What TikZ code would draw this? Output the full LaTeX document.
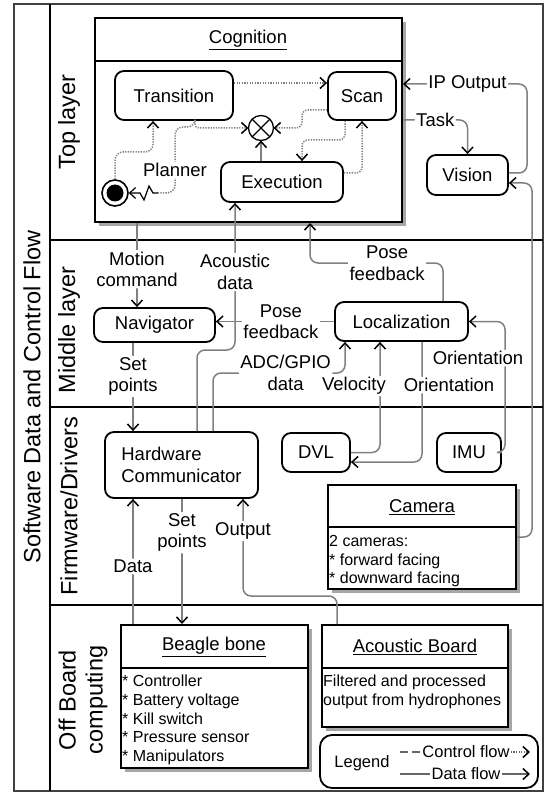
\documentclass[tikz,border=0pt]{standalone}
\usepackage{fontspec}
\setmainfont{Liberation Sans}
\usetikzlibrary{arrows.meta,shadows}
\newcommand\fmain{\fontsize{18.5}{21.5}\selectfont}
\newcommand\fbody{\fontsize{16}{18.7}\selectfont}
\newcommand\flane{\fontsize{23.5}{27}\selectfont}
\newcommand\flegend{\fontsize{16.5}{19}\selectfont}
\begin{document}
\begin{tikzpicture}[x=1pt,y=-1pt,font=\fmain,
  rbox/.style={draw, line width=1.8pt, rounded corners=9pt, fill=white, font=\fmain, inner sep=2pt},
  ubox/.style={draw, line width=2pt, fill=white, drop shadow={shadow xshift=4pt, shadow yshift=-4pt, fill=black!35, opacity=1}},
  conn/.style={draw=black!50, line width=1.5pt, rounded corners=8pt},
  ctrl/.style={conn, dash pattern=on 1.3pt off 1.3pt},
  arrowend/.style={-{Straight Barb[length=6pt,width=11pt,black]}},
  lbl/.style={fill=white, font=\fmain, align=center, inner sep=1.5pt},
  lanesep/.style={line width=2pt},
]
\useasboundingbox (0,0) rectangle (545,794);
% frame and lanes
\draw[line width=2pt, black!75] (14,4) rectangle (543,791);
\draw[lanesep] (50,4) -- (50,791);
\draw[lanesep] (50,240) -- (543,240);
\draw[lanesep] (50,407) -- (543,407);
\draw[lanesep] (50,605) -- (543,605);
\node[rotate=90, font=\flane] (title) at (32,397) {Software Data and Control Flow};
\node[rotate=90, font=\flane] (laneTop) at (69,122) {Top layer};
\node[rotate=90, font=\flane] (laneMid) at (69,330) {Middle layer};
\node[rotate=90, font=\flane] (laneFw) at (69,506) {Firmware/Drivers};
\node[rotate=90, font=\flane, align=center] (laneOff) at (83,700) {Off Board\\computing};

% Cognition
\node[ubox, minimum width=307pt, minimum height=204pt] (cog) at (248.5,120) {};
\draw[line width=2pt] ([yshift=-44pt]cog.north west) -- ([yshift=-44pt]cog.north east);
\node (cogT) at (248,40) {\underline{Cognition}};
\node[rbox, minimum width=118pt, minimum height=49pt] (trans) at (174,95.5) {Transition};
\node[rbox, minimum width=68pt, minimum height=48pt] (scan) at (362,96) {Scan};
\node[circle, draw, line width=1.3pt, minimum size=25pt, inner sep=0pt, outer sep=0pt, fill=white] (ox) at (261,128) {};
\draw[line width=1.1pt] (ox.north west) -- (ox.south east) (ox.north east) -- (ox.south west);
\node[rbox, minimum width=122pt, minimum height=40pt] (exec) at (282,182) {Execution};
\node[circle, draw, line width=1.6pt, minimum size=26pt, inner sep=0pt, fill=white] (init) at (115,193) {};
\fill (init.center) circle (8.5);
\coordinate (zz) at (158,193);

% other nodes
\node[rbox, minimum width=81pt, minimum height=40pt] (vis) at (467.5,175) {Vision};
\node[rbox, minimum width=121pt, minimum height=34pt] (nav) at (154.5,325) {Navigator};
\node[rbox, minimum width=133pt, minimum height=39pt] (loc) at (401.5,321.5) {Localization};
\node[rbox, minimum width=153pt, minimum height=66pt, align=left] (hc) at (181.5,465) {Hardware\\Communicator};
\node[rbox, minimum width=68pt, minimum height=39pt] (dvl) at (316,452.5) {DVL};
\node[rbox, minimum width=64pt, minimum height=39pt] (imu) at (469,452.5) {IMU};

\node[ubox, minimum width=188pt, minimum height=104pt] (cam) at (422,537) {};
\draw[line width=2pt] ([yshift=-43pt]cam.north west) -- ([yshift=-43pt]cam.north east);
\node (camT) at (422,507) {\underline{Camera}};
\node[font=\fbody, align=left, anchor=north west, inner sep=1pt] (camB) at ([yshift=-50pt,xshift=1pt]cam.north west) {2 cameras:\\* forward facing\\* downward facing};

\node[ubox, minimum width=187pt, minimum height=143pt] (bb) at (214.5,696.5) {};
\draw[line width=2pt] ([yshift=-44pt]bb.north west) -- ([yshift=-44pt]bb.north east);
\node (bbT) at (214,647) {\underline{Beagle bone}};
\node[font=\fbody, align=left, anchor=north west, inner sep=1pt] (bbB) at ([yshift=-50pt,xshift=1pt]bb.north west) {* Controller\\* Battery voltage\\* Kill switch\\* Pressure sensor\\* Manipulators};

\node[ubox, minimum width=186pt, minimum height=102pt] (ab) at (415,676) {};
\draw[line width=2pt] ([yshift=-44pt]ab.north west) -- ([yshift=-44pt]ab.north east);
\node (abT) at (415,647) {\underline{Acoustic Board}};
\node[font=\fbody, align=left, anchor=north west, inner sep=1pt] (abB) at ([yshift=-50pt,xshift=1pt]ab.north west) {Filtered and processed\\output from hydrophones};

% legend
\node[draw, line width=1.8pt, rounded corners=12pt, minimum width=218pt, minimum height=53pt] (leg) at (429,761.5) {};
\node[font=\flegend] (legT) at (362,763) {Legend};
\node[font=\flegend, inner sep=1pt] (legC) at (466,752) {Control flow};
\node[font=\flegend, inner sep=1pt] (legD) at (466,774) {Data flow};
\coordinate (lc0) at (400,752);
\coordinate (lc1) at (530,752);
\coordinate (ld0) at (400,774);
\coordinate (ld1) at (530,774);
\draw[black!60, line width=1.5pt, dash pattern=on 8pt off 4pt] (lc0) -- (legC.west);
\draw[black!60, line width=1.5pt, dash pattern=on 1.3pt off 1.3pt, arrowend] (legC.east) -- (lc1);
\draw[black!60, line width=1.5pt] (ld0) -- (legD.west);
\draw[black!60, line width=1.5pt, arrowend] (legD.east) -- (ld1);

% cognition connectors
\draw[ctrl, arrowend] (init.north) -- (115,152) -- (153,152) -- ([xshift=-21pt]trans.south);
\draw[ctrl, arrowend, rounded corners=4pt] ([xshift=21pt]trans.south) |- (ox.west);
\draw[ctrl] ([xshift=21pt]trans.south) -- (195,127) -- (175,127) -- node[lbl, pos=0.65]{Planner} (175,193) -- (zz);
\draw[line width=1.2pt, arrowend] (zz) -- (153,193) -- (149,186) -- (144,200) -- (140,193) -- (init.east);
\draw[ctrl, arrowend] ([yshift=12.5pt]trans.east) -- ([yshift=13pt]scan.west);
\draw[ctrl, arrowend, rounded corners=6pt] ([yshift=-14pt]scan.west) -- (302,110) -- (302,128) -- (ox.east);
\draw[ctrl, arrowend, rounded corners=6pt] ([xshift=-17pt]scan.south) -- (345,140) -- (302,140) -- ([xshift=20pt]exec.north);
\draw[ctrl, arrowend, rounded corners=6pt] ([yshift=9pt]exec.east) -- (362,173) -- (scan.south);
\draw[conn, arrowend] ([xshift=-21pt]exec.north) -- (ox.south);

% vision
\draw[conn, arrowend] ([yshift=2pt]vis.east) -- (527,173) -- (527,84) -- node[lbl, pos=0.48]{IP Output} ([yshift=36pt]cog.east);
\draw[conn, arrowend] (cog.east) -- node[lbl]{Task} (cog.east -| vis.north) -- (vis.north);
\draw[conn, arrowend] (cam.east) -- (532,537) -- (532,183) -- ([yshift=-8pt]vis.east);

% middle layer
\draw[conn, arrowend] ([xshift=-111.5pt]cog.south) -- node[lbl, pos=0.55]{Motion\\command} ([xshift=-17.5pt]nav.north);
\draw[conn, arrowend] ([xshift=15.5pt]hc.north) -- (197,350) -- (235,350) -- node[lbl, pos=0.53]{Acoustic\\data} ([xshift=-47pt]exec.south);
\draw[conn, arrowend] ([xshift=31.5pt]hc.north) -- (213,373) -- node[lbl, pos=0.55]{ADC/GPIO\\data} (345,373) -- ([xshift=-56.5pt]loc.south);
\draw[conn, arrowend] (loc.west) -- node[lbl, pos=0.45]{Pose\\feedback} (loc.west -| nav.east);
\draw[conn, arrowend] ([xshift=41.5pt]loc.north) -- (443,263) -- node[lbl, pos=0.42]{Pose\\feedback} (310,263) -- ([xshift=61.5pt]cog.south);
\draw[conn, arrowend] (dvl.east) -- (380,452.5) -- node[lbl, pos=0.6, xshift=-26pt]{Velocity} ([xshift=-21.5pt]loc.south);
\draw[conn, arrowend] ([xshift=20.5pt]loc.south) -- node[lbl, pos=0.36, xshift=27pt]{Orientation} (422,462) -- ([yshift=-9.5pt]dvl.east);
\draw[conn, arrowend] (imu.east) -- (505,452.5) -- node[lbl, pos=0.72, xshift=-27pt]{Orientation} (505,321.5) -- (loc.east);
\draw[conn, arrowend] ([xshift=-21.5pt]nav.south) -- node[lbl, pos=0.38]{Set\\points} ([xshift=-48.5pt]hc.north);

% firmware / off board
\draw[conn, arrowend] ([xshift=-81.5pt]bb.north) -- node[lbl, pos=0.46]{Data} ([xshift=-48.5pt]hc.south);
\draw[conn, arrowend] ([xshift=0.5pt]hc.south) -- node[lbl, pos=0.27]{Set\\points} ([xshift=-32.5pt]bb.north);
\draw[conn, arrowend] ([xshift=-78pt]ab.north) -- (337,596) -- (243,596) -- node[lbl, pos=0.67]{Output} ([xshift=61.5pt]hc.south);
\end{tikzpicture}
\end{document}
